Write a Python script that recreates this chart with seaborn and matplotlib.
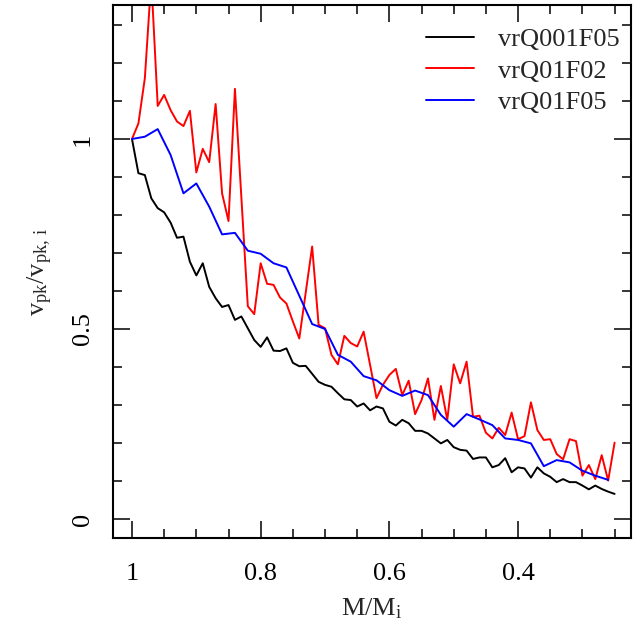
import matplotlib
matplotlib.use("Agg")
import matplotlib.pyplot as plt
import seaborn as sns
import pandas as pd
from matplotlib.ticker import FixedLocator, MultipleLocator

# ---- data ----
x_black = [1.00, 0.99, 0.98, 0.97, 0.96, 0.95, 0.94, 0.93, 0.92, 0.91, 0.90, 0.89, 0.88, 0.87, 0.86,
           0.85, 0.84, 0.83, 0.82, 0.81, 0.80, 0.79, 0.78, 0.77, 0.76, 0.75, 0.74, 0.73, 0.72, 0.71,
           0.70, 0.69, 0.68, 0.67, 0.66, 0.65, 0.64, 0.63, 0.62, 0.61, 0.60, 0.59, 0.58, 0.57, 0.56,
           0.55, 0.54, 0.53, 0.52, 0.51, 0.50, 0.49, 0.48, 0.47, 0.46, 0.45, 0.44, 0.43, 0.42, 0.41,
           0.40, 0.39, 0.38, 0.37, 0.36, 0.35, 0.34, 0.33, 0.32, 0.31, 0.30, 0.29, 0.28, 0.27, 0.26, 0.25]
y_black = [1.000, 0.910, 0.905, 0.844, 0.818, 0.807, 0.780, 0.740, 0.743, 0.677, 0.641, 0.673, 0.611, 0.581, 0.558,
           0.563, 0.524, 0.533, 0.502, 0.471, 0.453, 0.478, 0.443, 0.442, 0.449, 0.411, 0.402, 0.403, 0.382, 0.361,
           0.353, 0.348, 0.331, 0.315, 0.313, 0.296, 0.304, 0.286, 0.296, 0.291, 0.256, 0.246, 0.261, 0.252, 0.232,
           0.232, 0.225, 0.212, 0.199, 0.208, 0.189, 0.182, 0.180, 0.158, 0.162, 0.162, 0.136, 0.142, 0.160, 0.123,
           0.136, 0.133, 0.109, 0.136, 0.120, 0.111, 0.097, 0.105, 0.097, 0.097, 0.088, 0.078, 0.088, 0.079, 0.072, 0.066]

x_red = [1.00, 0.99, 0.98, 0.97, 0.96, 0.95, 0.94, 0.93, 0.92, 0.91, 0.90, 0.89, 0.88, 0.87, 0.86,
         0.85, 0.84, 0.82, 0.81, 0.80, 0.79, 0.78, 0.77, 0.76, 0.75, 0.74, 0.72, 0.71,
         0.70, 0.69, 0.68, 0.67, 0.66, 0.65, 0.64, 0.62, 0.61, 0.60, 0.59, 0.58, 0.57, 0.56,
         0.55, 0.54, 0.53, 0.52, 0.51, 0.50, 0.49, 0.48, 0.47, 0.46, 0.45, 0.44, 0.43, 0.42, 0.41,
         0.40, 0.39, 0.38, 0.37, 0.36, 0.35, 0.34, 0.33, 0.32, 0.31, 0.30, 0.29, 0.28, 0.27, 0.26, 0.25]
y_red = [1.000, 1.041, 1.160, 1.420, 1.087, 1.116, 1.076, 1.046, 1.034, 1.074, 0.912, 0.974, 0.939, 1.092, 0.857,
         0.784, 1.132, 0.560, 0.539, 0.673, 0.619, 0.616, 0.583, 0.567, 0.520, 0.475, 0.717, 0.511,
         0.502, 0.432, 0.407, 0.482, 0.463, 0.454, 0.493, 0.318, 0.353, 0.379, 0.395, 0.326, 0.364, 0.276,
         0.313, 0.370, 0.261, 0.350, 0.261, 0.407, 0.357, 0.414, 0.269, 0.272, 0.227, 0.212, 0.240, 0.221, 0.280,
         0.210, 0.218, 0.307, 0.234, 0.208, 0.210, 0.171, 0.157, 0.210, 0.205, 0.114, 0.142, 0.105, 0.168, 0.101, 0.201]

x_blue = [1.00, 0.98, 0.96, 0.94, 0.92, 0.90, 0.88, 0.86, 0.84, 0.82, 0.80, 0.78, 0.76, 0.72, 0.70,
          0.68, 0.66, 0.64, 0.62, 0.60, 0.58, 0.56, 0.54, 0.52, 0.50, 0.48, 0.46, 0.44, 0.42, 0.40,
          0.38, 0.36, 0.34, 0.32, 0.30, 0.28, 0.26]
y_blue = [1.000, 1.006, 1.026, 0.958, 0.857, 0.883, 0.822, 0.749, 0.753, 0.706, 0.698, 0.673, 0.662, 0.513, 0.500,
          0.432, 0.414, 0.376, 0.365, 0.339, 0.324, 0.338, 0.326, 0.274, 0.243, 0.276, 0.262, 0.247, 0.212, 0.208,
          0.199, 0.139, 0.155, 0.149, 0.127, 0.114, 0.103]

labels = ["vrQ001F05", "vrQ01F02", "vrQ01F05"]
colors = ["#000000", "#ff0000", "#0000ff"]

x_ticks = [1.0, 0.8, 0.6, 0.4]
x_ticklabels = ["1", "0.8", "0.6", "0.4"]
y_ticks = [0.0, 0.5, 1.0]
y_ticklabels = ["0", "0.5", "1"]

# ---- style ----
sns.set_style("ticks")
plt.rcParams["font.family"] = ["Liberation Serif", "DejaVu Serif"]
plt.rcParams["mathtext.fontset"] = "custom"
plt.rcParams["mathtext.rm"] = "Liberation Serif"
plt.rcParams["mathtext.it"] = "Liberation Serif:italic"

FS = 19

fig = plt.figure(figsize=(6.44, 6.33), dpi=100)
ax = fig.add_axes([113 / 644, 1 - 538 / 633, (631 - 113) / 644, (538 - 5) / 633])

df = pd.concat([
    pd.DataFrame({"x": x_black, "y": y_black, "run": labels[0]}),
    pd.DataFrame({"x": x_red, "y": y_red, "run": labels[1]}),
    pd.DataFrame({"x": x_blue, "y": y_blue, "run": labels[2]}),
], ignore_index=True)

sns.lineplot(data=df, x="x", y="y", hue="run", palette=dict(zip(labels, colors)),
             sort=False, estimator=None, linewidth=1.4, ax=ax)

ax.set_xlim(1.0295, 0.2245)
ax.set_ylim(-0.05, 1.3526)

ax.xaxis.set_major_locator(FixedLocator(x_ticks))
ax.set_xticklabels(x_ticklabels)
ax.xaxis.set_minor_locator(MultipleLocator(0.05))
ax.yaxis.set_major_locator(FixedLocator(y_ticks))
ax.set_yticklabels(y_ticklabels, rotation=90, va="center")
ax.yaxis.set_minor_locator(MultipleLocator(0.1))

ax.tick_params(which="both", direction="in", top=True, right=True, color="black",
               labelsize=FS, labelcolor="black")
ax.tick_params(which="major", length=12, width=1.1)
ax.tick_params(which="minor", length=6.5, width=1.1)
ax.tick_params(axis="x", which="major", pad=18)
ax.tick_params(axis="y", which="major", pad=14)

for s in ax.spines.values():
    s.set_linewidth(1.5)
    s.set_color("black")

ax.set_xlabel(r"$\mathrm{M/M_i}$", fontsize=FS, labelpad=8)
ax.set_ylabel(r"$\mathrm{v_{pk}/v_{pk,\,i}}$", fontsize=FS, labelpad=12)

leg = ax.legend(loc="upper right", bbox_to_anchor=(1.0, 1.0 - 11 / 533), frameon=False,
                fontsize=FS, handlelength=1.8, handletextpad=0.9, labelspacing=0.3,
                borderaxespad=0.0, borderpad=0.45)
for h in leg.get_lines():
    h.set_linewidth(1.4)

fig.savefig("out.png", dpi=100)
